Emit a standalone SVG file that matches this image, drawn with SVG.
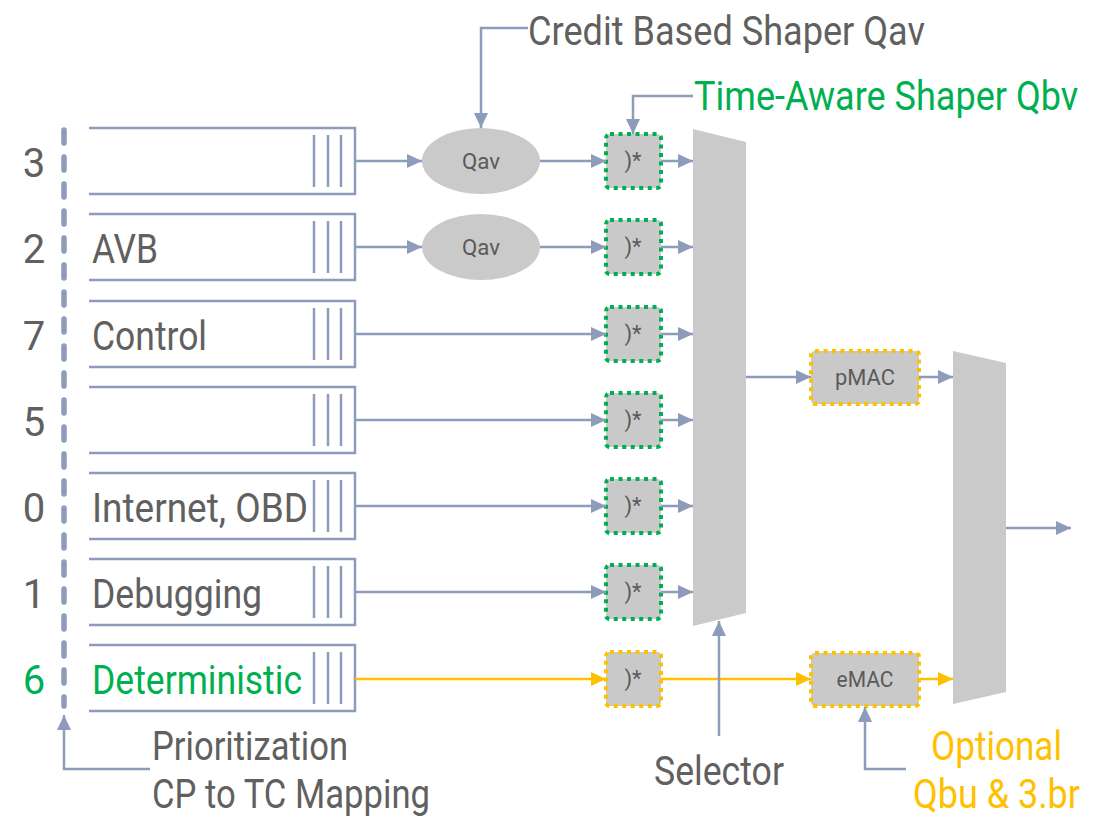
<svg xmlns="http://www.w3.org/2000/svg" width="1097" height="817" viewBox="0 0 1097 817">
<style>
.ln{fill:none;stroke:#8d9cba;stroke-width:2.5}
.yl{fill:none;stroke:#ffc000;stroke-width:2.5}
.q{fill:none;stroke:#8d9cba;stroke-width:2.5}
.big{font-family:Roboto,"Liberation Sans",sans-serif;font-size:40px;fill:#606060}
.sm{font-family:Roboto,"Liberation Sans",sans-serif;font-size:22px;fill:#5a5a5a;text-anchor:middle}
.gate{fill:#c9c9c9;stroke:#00b050;stroke-width:4;stroke-dasharray:4 4.5}
.ygate{fill:#c9c9c9;stroke:#ffc000;stroke-width:4;stroke-dasharray:4 4.5}
.sel{fill:#cacaca}
.grn{fill:#00b050}
.org{fill:#ffc000}
</style>
<defs>
<marker id="ag" markerUnits="userSpaceOnUse" markerWidth="16" markerHeight="14" refX="15" refY="7" orient="auto"><path d="M0,0 L15,7 L0,14 Z" fill="#8d9cba"/></marker>
<marker id="ay" markerUnits="userSpaceOnUse" markerWidth="16" markerHeight="14" refX="15" refY="7" orient="auto"><path d="M0,0 L15,7 L0,14 Z" fill="#ffc000"/></marker>
</defs>

<line x1="64" y1="130" x2="64" y2="706" stroke="#8d9cba" stroke-width="5.5" stroke-linecap="round" stroke-dasharray="13 14"/>

<g id="queue3"><path class="q" d="M89,128 H355 V194 H89 M314,135 V187 M328,135 V187 M341,135 V187"/><text class="big" x="34" y="177" text-anchor="middle">3</text></g>
<g id="queue2"><path class="q" d="M89,214 H355 V280 H89 M314,221 V273 M328,221 V273 M341,221 V273"/><text class="big" x="34" y="263" text-anchor="middle">2</text><text class="big" x="92" y="263" textLength="66" lengthAdjust="spacingAndGlyphs">AVB</text></g>
<g id="queue7"><path class="q" d="M89,301 H355 V367 H89 M314,308 V360 M328,308 V360 M341,308 V360"/><text class="big" x="34" y="350" text-anchor="middle">7</text><text class="big" x="92" y="350" textLength="115" lengthAdjust="spacingAndGlyphs">Control</text></g>
<g id="queue5"><path class="q" d="M89,387 H355 V453 H89 M314,394 V446 M328,394 V446 M341,394 V446"/><text class="big" x="34" y="436" text-anchor="middle">5</text></g>
<g id="queue0"><path class="q" d="M89,473 H355 V539 H89 M314,480 V532 M328,480 V532 M341,480 V532"/><text class="big" x="34" y="522" text-anchor="middle">0</text><text class="big" x="92" y="522" textLength="216" lengthAdjust="spacingAndGlyphs">Internet, OBD</text></g>
<g id="queue1"><path class="q" d="M89,559 H355 V625 H89 M314,566 V618 M328,566 V618 M341,566 V618"/><text class="big" x="34" y="608" text-anchor="middle">1</text><text class="big" x="92" y="608" textLength="170" lengthAdjust="spacingAndGlyphs">Debugging</text></g>
<g id="queue6"><path class="q" d="M89,645 H355 V711 H89 M314,652 V704 M328,652 V704 M341,652 V704"/><text class="big grn" x="34" y="694" text-anchor="middle">6</text><text class="big grn" x="92" y="694" textLength="210" lengthAdjust="spacingAndGlyphs">Deterministic</text></g>

<g id="qav1"><ellipse cx="481" cy="161" rx="59" ry="33" fill="#cacaca"/><text class="sm" x="481" y="169" textLength="38" lengthAdjust="spacingAndGlyphs">Qav</text></g>
<g id="qav2"><ellipse cx="481" cy="247" rx="59" ry="33" fill="#cacaca"/><text class="sm" x="481" y="255" textLength="38" lengthAdjust="spacingAndGlyphs">Qav</text></g>

<g id="gate3"><rect class="gate" x="606" y="134" width="55" height="54" rx="4"/><text class="sm" x="633" y="168">)*</text></g>
<g id="gate2"><rect class="gate" x="606" y="220" width="55" height="54" rx="4"/><text class="sm" x="633" y="254">)*</text></g>
<g id="gate7"><rect class="gate" x="606" y="307" width="55" height="54" rx="4"/><text class="sm" x="633" y="341">)*</text></g>
<g id="gate5"><rect class="gate" x="606" y="393" width="55" height="54" rx="4"/><text class="sm" x="633" y="427">)*</text></g>
<g id="gate0"><rect class="gate" x="606" y="479" width="55" height="54" rx="4"/><text class="sm" x="633" y="513">)*</text></g>
<g id="gate1"><rect class="gate" x="606" y="565" width="55" height="54" rx="4"/><text class="sm" x="633" y="599">)*</text></g>
<g id="gate6"><rect class="ygate" x="606" y="652" width="55" height="54" rx="4"/><text class="sm" x="633" y="686">)*</text></g>

<g id="selector"><polygon class="sel" points="693,129 746,142 746,613 693,626"/></g>
<g id="pmac"><rect class="ygate" x="811" y="351" width="108" height="53" rx="4"/><text class="sm" x="865" y="385" textLength="60" lengthAdjust="spacingAndGlyphs">pMAC</text></g>
<g id="emac"><rect class="ygate" x="811" y="653" width="108" height="53" rx="4"/><text class="sm" x="865" y="687" textLength="57" lengthAdjust="spacingAndGlyphs">eMAC</text></g>
<g id="mux"><polygon class="sel" points="953,351 1006,363 1006,692 953,704"/></g>

<g id="labels">
<text class="big" x="528" y="45" font-size="41" textLength="397" lengthAdjust="spacingAndGlyphs">Credit Based Shaper Qav</text>
<text class="big grn" transform="translate(694,110) scale(0.9,1)" x="0" y="0" textLength="427" lengthAdjust="spacingAndGlyphs">Time-Aware Shaper Qbv</text>
<text class="big" x="152" y="760" textLength="196" lengthAdjust="spacingAndGlyphs">Prioritization</text>
<text class="big" x="152" y="808" textLength="278" lengthAdjust="spacingAndGlyphs">CP to TC Mapping</text>
<text class="big" x="654" y="785" font-size="41" textLength="130" lengthAdjust="spacingAndGlyphs">Selector</text>
<text class="big org" x="931" y="760" font-size="41" textLength="131" lengthAdjust="spacingAndGlyphs">Optional</text>
<text class="big org" x="913" y="808" font-size="41" textLength="167" lengthAdjust="spacingAndGlyphs">Qbu &amp; 3.br</text>
</g>

<g id="connectors">
<line class="ln" x1="355" y1="161" x2="422" y2="161" marker-end="url(#ag)"/>
<line class="ln" x1="355" y1="247" x2="422" y2="247" marker-end="url(#ag)"/>
<line class="ln" x1="540" y1="161" x2="606" y2="161" marker-end="url(#ag)"/>
<line class="ln" x1="540" y1="247" x2="606" y2="247" marker-end="url(#ag)"/>
<line class="ln" x1="355" y1="334" x2="606" y2="334" marker-end="url(#ag)"/>
<line class="ln" x1="355" y1="420" x2="606" y2="420" marker-end="url(#ag)"/>
<line class="ln" x1="355" y1="506" x2="606" y2="506" marker-end="url(#ag)"/>
<line class="ln" x1="355" y1="592" x2="606" y2="592" marker-end="url(#ag)"/>
<line class="ln" x1="661" y1="161" x2="693" y2="161" marker-end="url(#ag)"/>
<line class="ln" x1="661" y1="247" x2="693" y2="247" marker-end="url(#ag)"/>
<line class="ln" x1="661" y1="334" x2="693" y2="334" marker-end="url(#ag)"/>
<line class="ln" x1="661" y1="420" x2="693" y2="420" marker-end="url(#ag)"/>
<line class="ln" x1="661" y1="506" x2="693" y2="506" marker-end="url(#ag)"/>
<line class="ln" x1="661" y1="592" x2="693" y2="592" marker-end="url(#ag)"/>
<line class="yl" x1="355" y1="679" x2="606" y2="679" marker-end="url(#ay)"/>
<line class="yl" x1="661" y1="679" x2="811" y2="679" marker-end="url(#ay)"/>
<line class="yl" x1="919" y1="679" x2="953" y2="679" marker-end="url(#ay)"/>
<line class="ln" x1="746" y1="377" x2="811" y2="377" marker-end="url(#ag)"/>
<line class="ln" x1="919" y1="377" x2="953" y2="377" marker-end="url(#ag)"/>
<line class="ln" x1="1006" y1="528" x2="1071" y2="528" marker-end="url(#ag)"/>
<line class="ln" x1="719" y1="736" x2="719" y2="621" marker-end="url(#ag)"/>
<polyline class="ln" points="906,769 865,769 865,707" marker-end="url(#ag)"/>
<polyline class="ln" points="150,769 64,769 64,715" marker-end="url(#ag)"/>
<polyline class="ln" points="528,28 481,28 481,128" marker-end="url(#ag)"/>
<polyline class="ln" points="693,96 633,96 633,134" marker-end="url(#ag)"/>
</g>
</svg>
